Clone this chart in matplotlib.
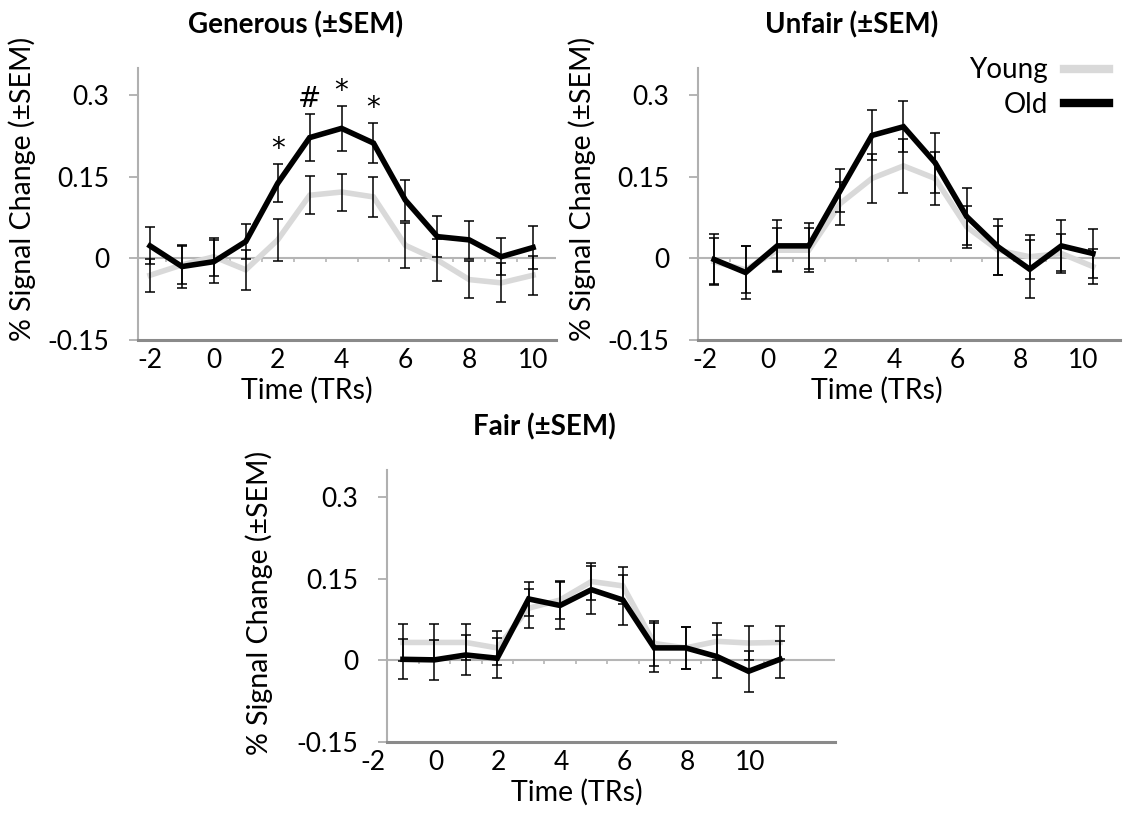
import numpy as np
import matplotlib
matplotlib.use("Agg")
import matplotlib.pyplot as plt
from matplotlib.lines import Line2D

plt.rcParams['font.family'] = ['Lato', 'DejaVu Sans']

# --- data ---
time_trs = np.arange(-2, 11)
xtick_vals = [-2, 0, 2, 4, 6, 8, 10]
ytick_vals = [-0.15, 0, 0.15, 0.3]
ytick_labels = ["-0.15", "0", "0.15", "0.3"]

generous_young = [-0.031, -0.012, 0.003, -0.021, 0.034, 0.116, 0.122, 0.113, 0.024, -0.003, -0.039, -0.045, -0.031]
generous_young_sem = [0.030, 0.035, 0.035, 0.037, 0.038, 0.035, 0.034, 0.037, 0.041, 0.038, 0.034, 0.036, 0.036]
generous_old = [0.023, -0.015, -0.006, 0.031, 0.138, 0.222, 0.239, 0.212, 0.107, 0.040, 0.034, 0.003, 0.020]
generous_old_sem = [0.034, 0.039, 0.040, 0.032, 0.035, 0.043, 0.041, 0.037, 0.038, 0.038, 0.035, 0.034, 0.039]
sig_time = [2, 3, 4, 5]
sig_marks = ["*", "#", "*", "*"]

unfair_young = [-0.006, -0.021, 0.015, 0.015, 0.101, 0.147, 0.170, 0.147, 0.058, 0.015, 0.003, 0.009, -0.015]
unfair_young_sem = [0.043, 0.043, 0.040, 0.040, 0.040, 0.045, 0.050, 0.049, 0.038, 0.045, 0.040, 0.035, 0.032]
unfair_old = [-0.002, -0.026, 0.023, 0.023, 0.125, 0.226, 0.242, 0.176, 0.077, 0.021, -0.020, 0.023, 0.009]
unfair_old_sem = [0.046, 0.049, 0.047, 0.042, 0.040, 0.046, 0.047, 0.055, 0.053, 0.052, 0.053, 0.047, 0.045]

fair_young = [0.033, 0.033, 0.033, 0.023, 0.096, 0.111, 0.145, 0.137, 0.031, 0.023, 0.035, 0.032, 0.033]
fair_young_sem = [0.034, 0.034, 0.033, 0.031, 0.036, 0.035, 0.034, 0.034, 0.041, 0.038, 0.034, 0.032, 0.030]
fair_old = [0.002, 0.001, 0.010, 0.004, 0.113, 0.101, 0.130, 0.111, 0.023, 0.023, 0.007, -0.020, 0.002]
fair_old_sem = [0.037, 0.037, 0.036, 0.037, 0.032, 0.044, 0.044, 0.046, 0.045, 0.038, 0.040, 0.038, 0.034]

YOUNG_C = "#d9d9d9"
OLD_C = "black"
TICK_FS = 19
LABEL_FS = 20.5

fig = plt.figure(figsize=(11.26, 8.25), dpi=100)

panels = [
    # title, young, young sem, old, old sem, rect, shift, xlim, spine x, title x, xlabel x, ylabel (x, y)
    ("Generous (±SEM)", generous_young, generous_young_sem, generous_old, generous_old_sem,
     [0.1226, 0.5879, 0.3712, 0.3297], 0.0, (-2.376, 10.72), -2.376, 0.378, 0.404, (-0.245, 0.555)),
    ("Unfair (±SEM)", unfair_young, unfair_young_sem, unfair_old, unfair_old_sem,
     [0.6199, 0.5879, 0.3748, 0.3297], 0.3, (-2.21, 11.16), -2.21, 0.365, 0.424, (-0.242, 0.555)),
    ("Fair (±SEM)", fair_young, fair_young_sem, fair_old, fair_old_sem,
     [0.3259, 0.1006, 0.4156, 0.3297], 0.95, (-2.196, 12.7), -1.56, 0.380, 0.449, (-0.2, 0.51)),
]

axes = []
for title, yv, ys, ov, os_, rect, shift, xlim, spine_x, tx, xlx, ylpos in panels:
    ax = fig.add_axes(rect)
    axes.append(ax)
    x = time_trs + shift

    # zero line with Excel-like category ticks
    ax.hlines(0, spine_x, xlim[1], color="#b5b5b5", lw=1.5, zorder=1)
    mids = x[:-1] + 0.5
    ax.vlines(mids, -0.007, 0, color="#b5b5b5", lw=1.2, zorder=1)

    ax.plot(x, yv, color=YOUNG_C, lw=4, zorder=2, solid_joinstyle="miter")
    ax.errorbar(x, yv, yerr=ys, fmt="none", ecolor="black", elinewidth=1.1,
                capsize=3.5, capthick=1.1, zorder=3)
    ax.plot(x, ov, color=OLD_C, lw=4, zorder=4, solid_joinstyle="miter")
    ax.errorbar(x, ov, yerr=os_, fmt="none", ecolor="black", elinewidth=1.1,
                capsize=3.5, capthick=1.1, zorder=5)

    ax.set_xlim(*xlim)
    ax.set_ylim(-0.15, 0.35)
    ax.set_xticks(xtick_vals)
    ax.set_xticklabels([str(v) for v in xtick_vals])
    ax.set_yticks(ytick_vals)
    ax.set_yticklabels(ytick_labels)
    ax.tick_params(axis="x", length=0, pad=6, labelsize=TICK_FS)
    ax.tick_params(axis="y", length=6.5, width=1.2, color="#a8a8a8", pad=14, labelsize=TICK_FS)

    for s in ["top", "right"]:
        ax.spines[s].set_visible(False)
    ax.spines["left"].set_position(("data", spine_x))
    ax.spines["left"].set_color("#b0b0b0")
    ax.spines["left"].set_linewidth(1.5)
    ax.spines["bottom"].set_color("#8a8a8a")
    ax.spines["bottom"].set_linewidth(2.2)
    ax.spines["bottom"].set_bounds(spine_x, xlim[1])

    ax.set_xlabel("Time (TRs)", fontsize=LABEL_FS)
    ax.xaxis.set_label_coords(xlx, -0.135)
    ax.set_ylabel("% Signal Change (±SEM)", fontsize=LABEL_FS)
    ax.yaxis.set_label_coords(*ylpos)

    ax.text(tx, 1.16, title, transform=ax.transAxes, ha="center", va="center",
            fontsize=20, fontweight="bold")

# significance marks on the Generous panel
ax1 = axes[0]
for t, m in zip(sig_time, sig_marks):
    i = list(time_trs).index(t)
    ax1.text(t, generous_old[i] + generous_old_sem[i] + 0.002, m, ha="center", va="bottom",
             fontsize=20, family="DejaVu Sans")

# legend on the Unfair panel
handles = [Line2D([0], [0], color=YOUNG_C, lw=6), Line2D([0], [0], color=OLD_C, lw=6)]
axes[1].legend(handles, ["Young", "Old"], loc="upper right", bbox_to_anchor=(1.0, 1.08),
               frameon=False, markerfirst=False, fontsize=20, handlelength=1.6,
               handletextpad=0.6, labelspacing=0.3, borderaxespad=0)

fig.savefig("out.png", dpi=100)
